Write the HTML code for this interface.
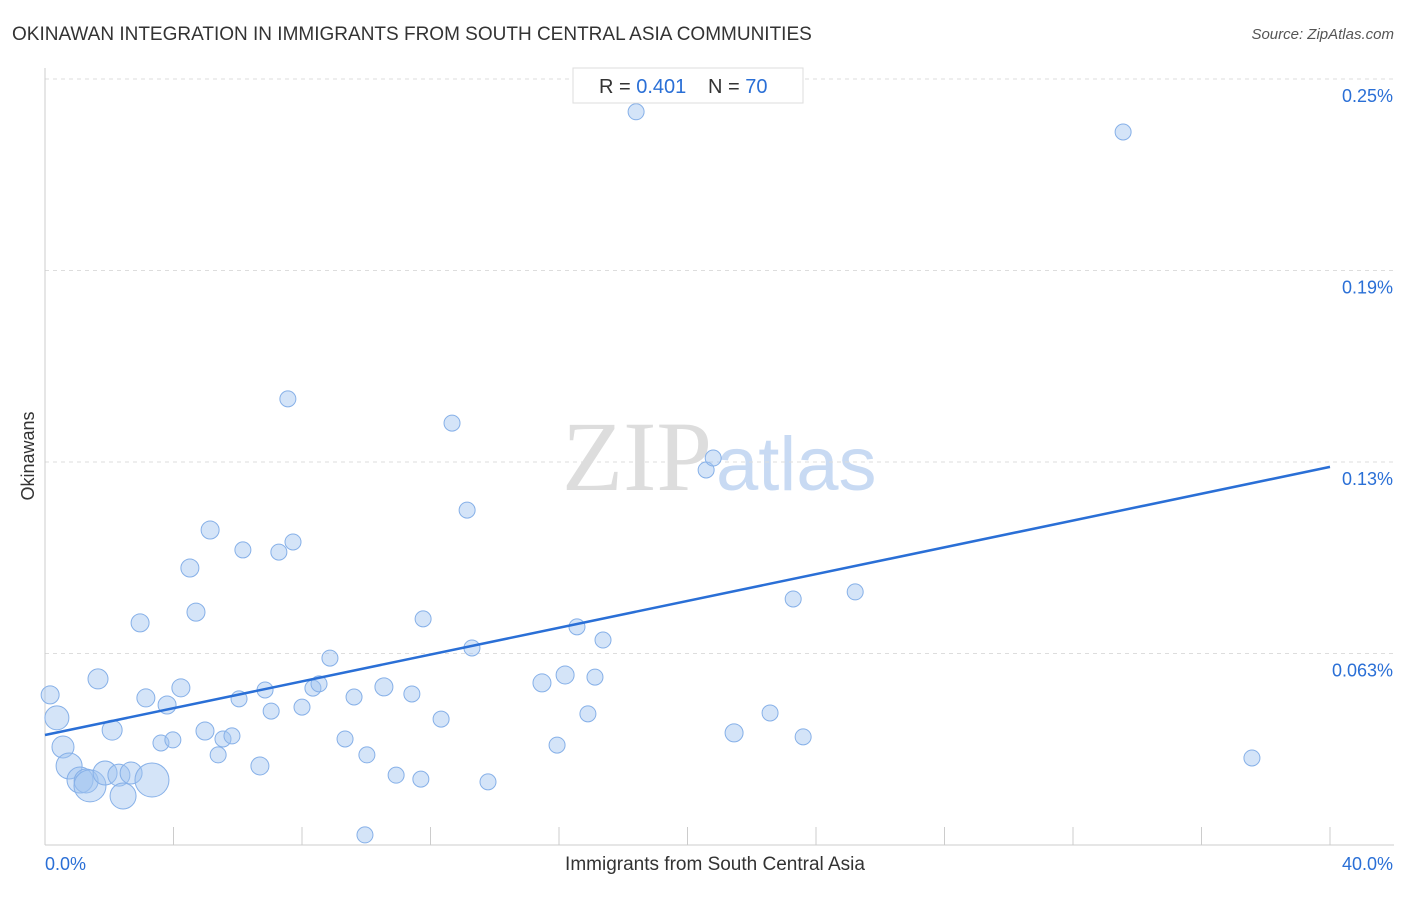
<!DOCTYPE html>
<html><head><meta charset="utf-8"><style>
body{margin:0;background:#fff;font-family:"Liberation Sans",sans-serif;}
#wrap{position:relative;width:1406px;height:892px;}
</style></head><body>
<div id="wrap">
<svg id="svg" width="1406" height="892" xmlns="http://www.w3.org/2000/svg">
<text x="12" y="40" font-size="19" fill="#333">OKINAWAN INTEGRATION IN IMMIGRANTS FROM SOUTH CENTRAL ASIA COMMUNITIES</text>
<text x="1394" y="39" font-size="15" fill="#555" font-style="italic" text-anchor="end">Source: ZipAtlas.com</text>
<text x="715" y="870" font-size="19" fill="#333" text-anchor="middle">Immigrants from South Central Asia</text>
<text x="34" y="456" font-size="18" fill="#333" text-anchor="middle" transform="rotate(-90 34 456)">Okinawans</text>
<text x="712" y="490" font-size="100" fill="#ddd" text-anchor="end" font-family="Liberation Serif,serif">ZIP</text>
<text x="716" y="490" font-size="76" fill="#c8daf3">atlas</text>
<g id="grid"></g><g id="pts"></g><g id="line"></g>
<rect x="573" y="68" width="230" height="35" fill="#fff" stroke="#ddd"/>
<text x="599" y="93" font-size="20" fill="#333">R = <tspan fill="#2a6fd6">0.401</tspan></text>
<text x="708" y="93" font-size="20" fill="#333">N = <tspan fill="#2a6fd6">70</tspan></text>
</svg>
</div>
<script>
const xVals=[0.16,0.37,0.56,0.75,1.09,1.28,1.40,1.65,1.87,2.09,2.30,2.43,2.68,2.96,3.14,3.33,3.61,3.80,3.98,4.23,4.51,4.70,4.98,5.14,5.39,5.54,5.82,6.04,6.16,6.69,6.85,7.04,7.28,7.56,7.72,8.0,8.34,8.53,8.87,9.34,9.62,9.96,10.02,10.55,10.93,11.42,11.7,11.77,12.33,12.67,13.14,13.29,13.79,15.47,15.94,16.19,16.56,16.9,17.12,17.37,18.4,20.58,20.8,21.45,22.57,23.29,23.6,25.22,33.56,37.57];
const yVals=[0.049,0.0415,0.032,0.0258,0.0212,0.0209,0.0193,0.0542,0.0235,0.0375,0.0228,0.016,0.0235,0.0725,0.048,0.0212,0.0333,0.0457,0.0343,0.0513,0.0904,0.076,0.0372,0.1028,0.0294,0.0346,0.0356,0.0477,0.0963,0.0258,0.0506,0.0437,0.0956,0.1456,0.0989,0.045,0.0512,0.0526,0.061,0.0346,0.0483,0.0033,0.0294,0.0516,0.0228,0.0493,0.0215,0.0738,0.0411,0.1377,0.1093,0.0643,0.0206,0.0529,0.0326,0.0555,0.0712,0.0428,0.0548,0.0669,0.2393,0.1224,0.1263,0.0366,0.0431,0.0803,0.0353,0.0826,0.2327,0.0284];
const sizes=[9,12,11,13,13,12,16,10,12,10,11,13,11,9,9,17,8,9,8,9,9,9,9,9,8,8,8,8,8,9,8,8,8,8,8,8,8,8,8,8,8,8,8,9,8,8,8,8,8,8,8,8,8,9,8,9,8,8,8,8,8,8,8,9,8,8,8,8,8,8];
const yTicks=[0.0625,0.125,0.1875,0.25];
const yTickLabels=["0.063%","0.13%","0.19%","0.25%"];
const xTickVals=[0,4,8,12,16,20,24,28,32,36,40];
const xEndLabels=["0.0%","40.0%"];
const trend=[0.0359,0.1234];
const NS="http://www.w3.org/2000/svg";
const X=v=>45+v/40*1285, Y=v=>845-v/0.0625*191.5;
function mk(t,a,p){const e=document.createElementNS(NS,t);for(const k in a)e.setAttribute(k,a[k]);p.appendChild(e);return e;}
const g=document.getElementById('grid');
yTicks.forEach((t,i)=>{
 const l=mk('line',{x1:45,x2:1394,y1:Y(t),y2:Y(t),stroke:'#ddd','stroke-dasharray':'4,4'},g);
 
 
 const tx=mk('text',{x:1393,y:Y(t)+23,'font-size':18,fill:'#2a6fd6','text-anchor':'end'},g);
 tx.textContent=yTickLabels[i];
 
 
});
const ax=mk('line',{x1:45,x2:1394,y1:845,y2:845,stroke:'#ccc'},g);


const ay=mk('line',{x1:45,x2:45,y1:68,y2:845,stroke:'#ccc'},g);


xTickVals.slice(1).forEach(t=>{
 const l=mk('line',{x1:X(t),x2:X(t),y1:827,y2:845,stroke:'#ccc'},g);
 
 
});
[[X(0),'start',xEndLabels[0]],[1393,'end',xEndLabels[1]]].forEach(a=>{
 const tx=mk('text',{x:a[0],y:870,'font-size':18,fill:'#2a6fd6','text-anchor':a[1]},g);
 tx.textContent=a[2];
 
 
});
const p=document.getElementById('pts');
xVals.forEach((x,i)=>{
 const c=mk('circle',{cx:X(x),cy:Y(yVals[i]),r:sizes[i],fill:'rgba(160,196,240,0.45)',stroke:'#86b0e8','stroke-width':1},p);
 
 
});
const tl=mk('line',{x1:X(0),y1:Y(trend[0]),x2:X(40),y2:Y(trend[1]),stroke:'#2a6fd6','stroke-width':2.5},document.getElementById('line'));


</script>
</body></html>
